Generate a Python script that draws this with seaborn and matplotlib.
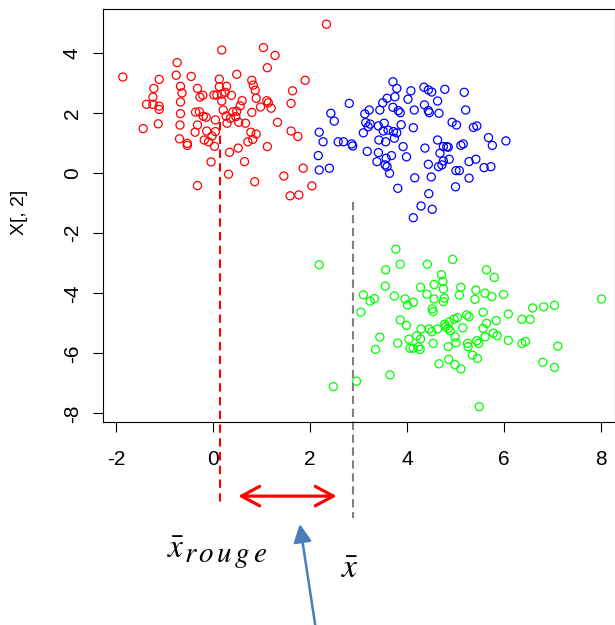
import numpy as np
import pandas as pd
import matplotlib
matplotlib.use("Agg")
import matplotlib.pyplot as plt
import seaborn as sns

# ---------------- data ----------------
red_x = [-1.86, -0.74, -1.11, -0.76, -0.45, -1.22, -0.67, -0.64, -0.32, -1.24,
         -0.27, -0.21, -1.37, -1.24, -1.11, -1.11, -0.67, -0.67, -0.36, -0.28,
         -0.20, -0.14, -1.44, -1.13, -0.68, -0.32, 0.05, -0.37, -0.13, 0.05,
         -0.69, -0.53, -0.53, -0.18, -0.09, -0.02, 0.03, -0.04, -0.32, 0.18,
         1.04, 1.28, 1.12, 0.49, 0.13, 0.80, 0.83, 0.87, 0.28, 0.13,
         0.08, 0.18, 0.25, 0.38, 0.02, 0.18, 0.60, 0.56, 0.89, 1.11,
         1.14, 0.98, 1.20, 1.64, 1.90, 1.61, 0.21, 0.41, 0.49, 0.80,
         0.27, 0.36, 0.47, 0.53, 0.29, 0.67, 1.33, 0.78, 0.89, 0.82,
         0.72, 1.61, 1.75, 0.52, 0.34, 1.12, 0.65, 1.86, 0.32, 1.46,
         0.86, 2.04, 1.59, 1.77, 2.34]
red_y = [3.21, 3.69, 3.13, 3.27, 3.23, 2.83, 2.90, 2.68, 2.83, 2.54,
         2.54, 2.60, 2.30, 2.30, 2.24, 2.13, 2.38, 1.99, 2.04, 2.05,
         1.90, 1.87, 1.49, 1.65, 1.61, 1.61, 1.78, 1.37, 1.41, 1.39,
         1.15, 1.00, 0.93, 1.11, 1.05, 1.24, 0.90, 0.38, -0.41, 4.11,
         4.19, 3.93, 3.52, 3.30, 3.14, 3.10, 2.94, 2.77, 2.90, 2.89,
         2.61, 2.64, 2.70, 2.60, 2.61, 2.41, 2.42, 2.25, 2.50, 2.42,
         2.35, 2.21, 2.17, 2.75, 3.10, 2.33, 2.11, 2.05, 2.07, 2.03,
         1.91, 1.83, 1.89, 1.70, 1.67, 1.67, 1.70, 1.37, 1.31, 1.13,
         1.05, 1.41, 1.23, 0.84, 0.70, 0.89, 0.39, 0.17, -0.03, -0.09,
         -0.28, -0.42, -0.75, -0.72, 4.97]

blue_x = [3.71, 3.79, 4.08, 3.75, 3.59, 3.50, 4.02, 2.81, 3.71, 3.82,
          3.86, 3.44, 3.22, 3.13, 2.43, 2.50, 3.15, 3.24, 3.20, 3.41,
          3.53, 3.88, 3.51, 3.61, 3.72, 3.79, 3.10, 2.19, 2.27, 2.58,
          2.69, 2.86, 2.88, 3.42, 3.56, 3.74, 3.92, 3.18, 3.41, 2.17,
          3.68, 3.57, 3.99, 3.38, 3.55, 3.59, 2.19, 2.40, 3.64, 3.81,
          4.35, 4.44, 4.51, 4.78, 5.18, 4.36, 4.63, 4.15, 4.44, 4.46,
          4.66, 5.21, 4.13, 4.93, 5.02, 5.37, 5.44, 5.68, 5.76, 6.04,
          4.63, 4.75, 4.82, 4.85, 5.11, 5.16, 4.37, 4.68, 4.87, 4.75,
          4.44, 4.65, 4.72, 5.28, 5.42, 5.59, 5.73, 5.01, 5.08, 4.16,
          4.50, 5.28, 5.00, 4.45, 4.29, 4.52, 4.13]
blue_y = [3.05, 2.83, 2.75, 2.55, 2.50, 2.35, 2.47, 2.33, 2.20, 2.09,
          2.02, 2.11, 2.11, 1.98, 2.00, 1.74, 1.69, 1.64, 1.55, 1.58,
          1.67, 1.62, 1.41, 1.44, 1.39, 1.35, 1.35, 1.37, 1.05, 1.05,
          1.05, 0.98, 0.91, 1.11, 1.05, 1.17, 0.89, 0.73, 0.69, 0.59,
          0.59, 0.50, 0.55, 0.39, 0.28, 0.22, 0.11, 0.17, 0.00, -0.50,
          2.87, 2.78, 2.71, 2.80, 2.70, 2.28, 2.41, 2.11, 2.09, 2.02,
          2.00, 2.11, 1.52, 1.70, 1.61, 1.53, 1.58, 1.19, 0.93, 1.08,
          1.11, 0.89, 0.89, 0.87, 0.93, 0.98, 0.84, 0.67, 0.47, 0.41,
          0.30, 0.22, 0.28, 0.39, 0.47, 0.19, 0.22, 0.09, 0.09, -0.15,
          -0.12, -0.16, -0.45, -0.68, -1.09, -1.20, -1.48]

green_x = [2.19, 3.77, 3.86, 3.56, 3.55, 3.10, 3.24, 3.33, 3.74, 3.96,
           4.01, 3.05, 3.86, 3.99, 3.44, 3.81, 4.04, 4.06, 3.35, 3.65,
           2.96, 2.48,
           4.94, 4.42, 5.64, 5.80, 4.71, 4.74, 4.56, 4.75, 4.28, 5.11,
           5.42, 5.61, 5.08, 5.40, 5.75, 5.99, 4.41, 4.56, 4.77, 4.75,
           4.13, 4.52, 4.54, 5.57, 6.09, 4.29, 4.46, 4.51, 4.63, 4.78,
           4.80, 4.87, 4.85, 4.89, 4.97, 5.04, 5.23, 5.28, 5.15, 5.64,
           5.57, 5.84, 4.20, 4.28, 4.24, 4.13, 4.27, 4.54, 4.85, 4.99,
           5.01, 5.25, 5.26, 5.44, 5.48, 5.61, 5.78, 5.86, 6.09, 5.35,
           5.45, 4.86, 4.66, 4.99, 5.11, 5.49,
           8.01, 6.59, 6.82, 7.04, 6.37, 6.54, 6.37, 6.44, 7.11, 6.80, 7.04]
green_y = [-3.05, -2.53, -3.03, -3.22, -3.76, -4.05, -4.26, -4.18, -4.09, -4.19,
           -4.39, -4.63, -4.89, -5.07, -5.46, -5.66, -5.53, -5.83, -5.87, -6.72,
           -6.93, -7.11,
           -2.87, -3.03, -3.22, -3.47, -3.38, -3.60, -3.71, -3.85, -3.80, -3.80,
           -3.89, -4.00, -4.06, -4.20, -4.11, -4.04, -4.03, -4.19, -4.16, -4.28,
           -4.30, -4.52, -4.61, -4.63, -4.69, -5.19, -5.19, -5.28, -5.19, -5.03,
           -5.11, -4.96, -5.17, -5.25, -4.86, -4.81, -4.72, -4.78, -5.15, -5.00,
           -5.17, -4.91, -5.42, -5.52, -5.78, -5.83, -5.87, -5.67, -5.78, -5.45,
           -5.65, -5.67, -5.78, -5.58, -5.67, -5.45, -5.33, -5.41, -5.57, -6.06,
           -6.17, -6.20, -6.35, -6.38, -6.52, -7.78,
           -4.19, -4.49, -4.45, -4.40, -4.87, -4.87, -5.67, -5.61, -5.76, -6.30, -6.47]

# means shown by the dashed guide lines (as drawn in the picture)
xbar_rouge = 0.14
xbar = 2.89

x_ticks = [-2, 0, 2, 4, 6, 8]
y_ticks = [-8, -6, -4, -2, 0, 2, 4]
y_label = "X[, 2]"

# ---------------- figure ----------------
plt.rcParams["font.family"] = ["Liberation Sans", "DejaVu Sans"]
plt.rcParams["mathtext.fontset"] = "stix"

W, H = 615, 625
fig = plt.figure(figsize=(W / 100, H / 100), dpi=100)
left_px, right_px, top_px, bottom_px = 103.3, 615, 9.3, 421.7
ax = fig.add_axes([left_px / W, 1 - bottom_px / H,
                   (right_px - left_px) / W, (bottom_px - top_px) / H])

df = pd.DataFrame({
    "x": red_x + blue_x + green_x,
    "y": red_y + blue_y + green_y,
    "group": ["rouge"] * len(red_x) + ["bleu"] * len(blue_x) + ["vert"] * len(green_x),
})
palette = {"rouge": "#FF0000", "bleu": "#0000FF", "vert": "#00FF00"}
sns.scatterplot(data=df, x="x", y="y", hue="group", palette=palette,
                s=34, linewidth=0.9, legend=False, ax=ax)
pc = ax.collections[0]
fc = pc.get_facecolors()
pc.set_edgecolors(fc)
pc.set_facecolors("none")

ax.set_xlim(-2.262, 8.289)
ax.set_ylim(-8.28, 5.467)
ax.set_xticks(x_ticks)
ax.set_yticks(y_ticks)
ax.set_xticklabels([str(t) for t in x_ticks])
ax.set_yticklabels([str(t) for t in y_ticks])
ax.set_xlabel("")
ax.set_ylabel("")
for sp in ax.spines.values():
    sp.set_linewidth(0.8)
    sp.set_color("black")
ax.tick_params(axis="both", direction="out", length=7.5, width=0.8, labelsize=15,
               colors="black")
ax.tick_params(axis="x", pad=13)
ax.tick_params(axis="y", pad=8, labelrotation=90)
for lab in ax.get_yticklabels():
    lab.set_va("center")
    lab.set_ha("right")

fig.text(20 / W, 1 - 212 / H, y_label, rotation=90, ha="center", va="center",
         fontsize=14)

# ---------------- annotations ----------------
ax.plot([xbar_rouge, xbar_rouge], [1.71, -11.12], color="#FF0000", lw=1.5,
        ls=(0, (4, 2.6)), clip_on=False, zorder=1)
ax.plot([xbar, xbar], [-0.95, -11.49], color="#808080", lw=1.5,
        ls=(0, (4, 2.2)), clip_on=False, zorder=1)

ax.annotate("", xy=(2.55, -10.76), xytext=(0.52, -10.76),
            arrowprops=dict(arrowstyle="<->,head_length=1.3,head_width=0.7",
                            color="#FF0000", lw=2.3, shrinkA=0, shrinkB=0),
            annotation_clip=False)

ax.annotate("", xy=(1.79, -11.69), xytext=(2.14, -15.4),
            arrowprops=dict(arrowstyle="-|>,head_length=1.1,head_width=0.55",
                            color="#4A7EBB", lw=1.8, shrinkA=0, shrinkB=0),
            annotation_clip=False)

fig.text(167 / W, 1 - 558 / H, r"$\bar{x}$", fontsize=24,
         ha="left", va="baseline")
fig.text(184 / W, 1 - 562 / H, r"$r\,o\,u\,g\,e$", fontsize=21,
         ha="left", va="baseline")
fig.text(341 / W, 1 - 578 / H, r"$\bar{x}$", fontsize=24,
         ha="left", va="baseline")

fig.savefig("out.png", dpi=100)
